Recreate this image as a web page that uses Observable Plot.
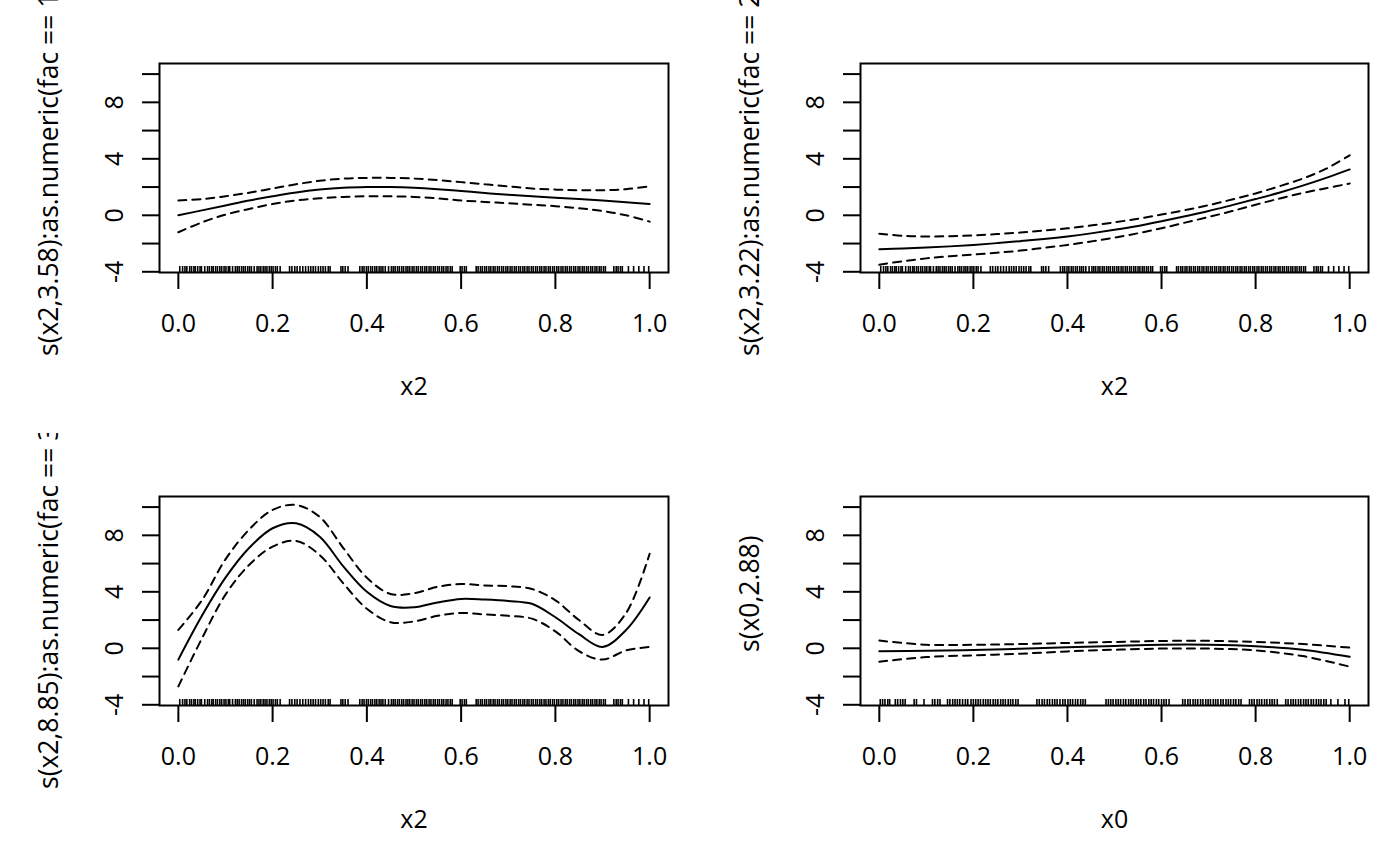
<!DOCTYPE html>
<html>
<head>
<meta charset="utf-8">
<script src="https://cdn.jsdelivr.net/npm/d3@7"></script>
<script src="https://cdn.jsdelivr.net/npm/@observablehq/plot@0.6"></script>
<style>
  html, body { margin: 0; padding: 0; background: white; }
  #root { position: relative; width: 1400px; height: 866px; overflow: hidden; background: white; font-family: "Open Sans", sans-serif; }
  .panel { position: absolute; width: 700px; height: 433px; }
</style>
</head>
<body>
<div id="root"></div>
<script>
// ---- shared axis data ----
const xTicks = [0, 0.2, 0.4, 0.6, 0.8, 1.0];
const xTickLabels = ["0.0", "0.2", "0.4", "0.6", "0.8", "1.0"];
const yTicks = [-4, -2, 0, 2, 4, 6, 8, 10];
const yLabelTicks = [-4, 0, 4, 8];
const yTickLabels = ["-4", "0", "4", "8"];

// evaluation grid for the smooths
const grid = [0, 0.05, 0.1, 0.15, 0.2, 0.25, 0.3, 0.35, 0.4, 0.45, 0.5, 0.55, 0.6, 0.65, 0.7, 0.75, 0.8, 0.85, 0.9, 0.95, 1.0];
const grid4 = [0, 0.1, 0.2, 0.3, 0.4, 0.5, 0.6, 0.7, 0.8, 0.9, 1.0];

// ---- rug data ----
const rugX2 = [0.003, 0.009, 0.014, 0.018, 0.024, 0.028, 0.033, 0.036, 0.041, 0.046, 0.049, 0.056, 0.062, 0.066, 0.071, 0.074, 0.079, 0.083, 0.088, 0.092, 0.097, 0.101, 0.106, 0.109, 0.115, 0.121, 0.125, 0.129, 0.134, 0.138, 0.142, 0.147, 0.151, 0.155, 0.161, 0.167, 0.171, 0.175, 0.18, 0.184, 0.188, 0.193, 0.197, 0.201, 0.206, 0.21, 0.216, 0.236, 0.241, 0.247, 0.252, 0.258, 0.264, 0.27, 0.276, 0.281, 0.286, 0.291, 0.297, 0.302, 0.307, 0.312, 0.318, 0.322, 0.345, 0.349, 0.354, 0.36, 0.385, 0.39, 0.394, 0.399, 0.403, 0.408, 0.412, 0.417, 0.421, 0.426, 0.43, 0.434, 0.439, 0.446, 0.452, 0.456, 0.46, 0.465, 0.469, 0.474, 0.478, 0.483, 0.487, 0.491, 0.496, 0.5, 0.505, 0.509, 0.514, 0.518, 0.523, 0.527, 0.532, 0.536, 0.541, 0.545, 0.55, 0.554, 0.559, 0.563, 0.568, 0.572, 0.577, 0.581, 0.598, 0.602, 0.607, 0.611, 0.632, 0.636, 0.641, 0.645, 0.65, 0.654, 0.659, 0.663, 0.668, 0.672, 0.677, 0.681, 0.686, 0.69, 0.695, 0.699, 0.704, 0.708, 0.713, 0.717, 0.722, 0.726, 0.731, 0.735, 0.74, 0.744, 0.749, 0.753, 0.758, 0.762, 0.767, 0.771, 0.776, 0.78, 0.785, 0.789, 0.794, 0.798, 0.803, 0.807, 0.812, 0.816, 0.821, 0.825, 0.83, 0.834, 0.839, 0.843, 0.848, 0.852, 0.857, 0.861, 0.866, 0.87, 0.875, 0.879, 0.884, 0.888, 0.893, 0.897, 0.902, 0.906, 0.924, 0.929, 0.933, 0.938, 0.942, 0.955, 0.966, 0.977, 0.988, 0.998];
const rugX0 = [0.002, 0.007, 0.012, 0.018, 0.022, 0.034, 0.039, 0.045, 0.05, 0.055, 0.074, 0.079, 0.095, 0.113, 0.118, 0.124, 0.129, 0.145, 0.15, 0.156, 0.161, 0.166, 0.171, 0.177, 0.183, 0.188, 0.195, 0.2, 0.205, 0.21, 0.215, 0.221, 0.226, 0.231, 0.236, 0.242, 0.247, 0.252, 0.258, 0.263, 0.268, 0.274, 0.279, 0.284, 0.29, 0.295, 0.335, 0.34, 0.346, 0.351, 0.357, 0.362, 0.368, 0.373, 0.378, 0.384, 0.39, 0.395, 0.401, 0.406, 0.411, 0.417, 0.422, 0.428, 0.433, 0.438, 0.482, 0.487, 0.492, 0.497, 0.503, 0.508, 0.513, 0.519, 0.524, 0.53, 0.535, 0.54, 0.546, 0.551, 0.556, 0.562, 0.567, 0.573, 0.578, 0.583, 0.589, 0.594, 0.6, 0.605, 0.61, 0.616, 0.645, 0.65, 0.656, 0.661, 0.667, 0.672, 0.677, 0.683, 0.688, 0.694, 0.699, 0.704, 0.71, 0.715, 0.72, 0.726, 0.731, 0.737, 0.742, 0.747, 0.753, 0.758, 0.764, 0.769, 0.787, 0.792, 0.797, 0.803, 0.808, 0.813, 0.819, 0.824, 0.83, 0.835, 0.84, 0.846, 0.864, 0.869, 0.875, 0.88, 0.885, 0.891, 0.896, 0.902, 0.907, 0.912, 0.918, 0.923, 0.929, 0.934, 0.939, 0.945, 0.95, 0.96, 0.975, 0.99, 0.998];

// ---- panel 1: s(x2,3.58):as.numeric(fac == 1) ----
const fit1 = [0.0, 0.35, 0.7, 1.05, 1.35, 1.62, 1.82, 1.95, 2.0, 2.0, 1.95, 1.85, 1.72, 1.58, 1.45, 1.35, 1.25, 1.15, 1.05, 0.93, 0.8];
const up1  = [1.05, 1.15, 1.35, 1.6, 1.9, 2.2, 2.45, 2.6, 2.65, 2.65, 2.6, 2.5, 2.35, 2.2, 2.05, 1.9, 1.82, 1.78, 1.78, 1.85, 2.05];
const lo1  = [-1.2, -0.5, 0.05, 0.45, 0.8, 1.05, 1.2, 1.3, 1.35, 1.35, 1.3, 1.2, 1.05, 0.95, 0.85, 0.75, 0.65, 0.5, 0.3, 0.0, -0.45];

// ---- panel 2: s(x2,3.22):as.numeric(fac == 2) ----
const fit2 = [-2.4, -2.35, -2.28, -2.2, -2.1, -1.97, -1.83, -1.68, -1.5, -1.28, -1.03, -0.75, -0.42, -0.07, 0.3, 0.72, 1.15, 1.6, 2.1, 2.65, 3.25];
const up2  = [-1.3, -1.45, -1.5, -1.48, -1.42, -1.33, -1.22, -1.08, -0.92, -0.72, -0.5, -0.24, 0.05, 0.37, 0.72, 1.12, 1.55, 2.05, 2.6, 3.3, 4.25];
const lo2  = [-3.5, -3.25, -3.05, -2.9, -2.78, -2.65, -2.5, -2.3, -2.1, -1.85, -1.58, -1.27, -0.92, -0.52, -0.12, 0.3, 0.75, 1.18, 1.58, 1.92, 2.25];

// ---- panel 3: s(x2,8.85):as.numeric(fac == 3) ----
const fit3 = [-0.8, 2.3, 5.0, 7.1, 8.5, 8.85, 7.9, 5.8, 4.0, 3.0, 2.9, 3.25, 3.5, 3.45, 3.35, 3.15, 2.2, 1.0, 0.1, 1.3, 3.6];
const up3  = [1.3, 3.4, 6.3, 8.4, 9.8, 10.15, 9.3, 7.1, 5.0, 3.85, 3.9, 4.35, 4.55, 4.45, 4.4, 4.2, 3.4, 2.0, 0.95, 2.5, 6.7];
const lo3  = [-2.7, 0.7, 3.8, 5.9, 7.2, 7.6, 6.6, 4.6, 2.8, 1.85, 1.9, 2.3, 2.5, 2.4, 2.3, 2.1, 1.2, -0.2, -0.8, -0.15, 0.1];

// ---- panel 4: s(x0,2.88) ----
const fit4 = [-0.2, -0.18, -0.12, -0.03, 0.08, 0.17, 0.25, 0.25, 0.15, -0.1, -0.6];
const up4  = [0.55, 0.25, 0.25, 0.3, 0.38, 0.45, 0.52, 0.53, 0.45, 0.3, 0.05];
const lo4  = [-0.95, -0.62, -0.5, -0.38, -0.22, -0.1, -0.02, -0.02, -0.15, -0.55, -1.3];

const panels = [
  {left: 0,   top: 0,   xs: grid,  fit: fit1, up: up1, lo: lo1, rug: rugX2, xlab: "x2", ylab: "s(x2,3.58):as.numeric(fac == 1)", labDy: 188},
  {left: 700, top: 0,   xs: grid,  fit: fit2, up: up2, lo: lo2, rug: rugX2, xlab: "x2", ylab: "s(x2,3.22):as.numeric(fac == 2)", labDy: 188},
  {left: 0,   top: 433, xs: grid,  fit: fit3, up: up3, lo: lo3, rug: rugX2, xlab: "x2", ylab: "s(x2,8.85):as.numeric(fac == 3)", labDy: 188},
  {left: 700, top: 433, xs: grid4, fit: fit4, up: up4, lo: lo4, rug: rugX0, xlab: "x0", ylab: "s(x0,2.88)", labDy: 51}
];

const FS = 25;
const root = document.getElementById("root");

for (const p of panels) {
  const pts = (arr) => p.xs.map((x, i) => ({x, y: arr[i]}));
  const chart = Plot.plot({
    width: 700,
    height: 433,
    marginLeft: 159 + (p.left ? 1 : 0),
    marginRight: 32,
    marginTop: 63,
    marginBottom: 161,
    style: {fontFamily: "Open Sans, sans-serif", fontSize: FS + "px", overflow: "hidden", background: "white", color: "black"},
    x: {domain: [-0.04, 1.04]},
    y: {domain: [-4.05, 10.75]},
    marks: [
      Plot.ruleX(p.rug, {x: d => d, insetTop: 203, strokeWidth: 1.6, stroke: "black"}),
      Plot.line(pts(p.fit), {x: "x", y: "y", curve: "catmull-rom", stroke: "black", strokeWidth: 2}),
      Plot.line(pts(p.up), {x: "x", y: "y", curve: "catmull-rom", stroke: "black", strokeWidth: 2, strokeDasharray: "8,6"}),
      Plot.line(pts(p.lo), {x: "x", y: "y", curve: "catmull-rom", stroke: "black", strokeWidth: 2, strokeDasharray: "8,6"}),
      Plot.frame({stroke: "black", strokeWidth: 2}),
      Plot.axisX({ticks: xTicks, tickSize: 17, tickFormat: () => "", label: null, stroke: "black", strokeWidth: 2}),
      Plot.axisY({ticks: yTicks, tickSize: 17, tickFormat: () => "", label: null, stroke: "black", strokeWidth: 2}),
      Plot.text(xTicks, {x: d => d, text: (d, i) => xTickLabels[i], frameAnchor: "bottom", dy: 51, lineAnchor: "middle", fontSize: FS, fill: "black"}),
      Plot.text(yLabelTicks, {y: d => d, text: (d, i) => yTickLabels[i], frameAnchor: "left", dx: -45, rotate: -90, textAnchor: "middle", lineAnchor: "middle", fontSize: FS, fill: "black"}),
      Plot.text([p.xlab], {text: d => d, frameAnchor: "bottom", dy: 114, lineAnchor: "middle", fontSize: FS, fill: "black"}),
      Plot.text([p.ylab], {text: d => d, frameAnchor: "left", dx: -110, dy: p.labDy, rotate: -90, textAnchor: "start", lineAnchor: "middle", fontSize: 26.5, fill: "black"})
    ]
  });
  const div = document.createElement("div");
  div.className = "panel";
  div.style.left = p.left + "px";
  div.style.top = p.top + "px";
  div.appendChild(chart);
  root.appendChild(div);
}
</script>
</body>
</html>
